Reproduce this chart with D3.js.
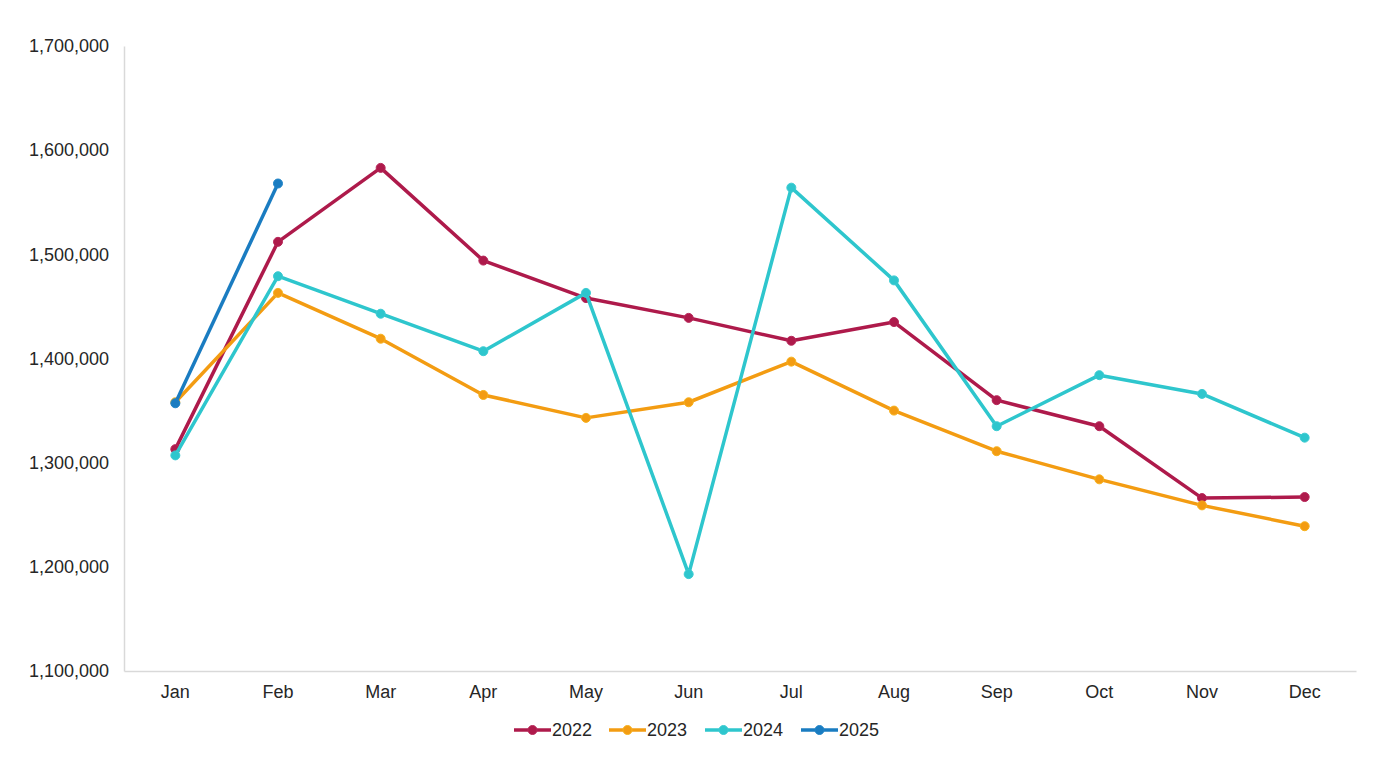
<!DOCTYPE html>
<html>
<head>
<meta charset="utf-8">
<script src="https://cdn.jsdelivr.net/npm/d3@7"></script>
<style>
  body { margin: 0; background: #fff; }
  svg { font-family: "Liberation Sans", Arial, sans-serif; }
</style>
</head>
<body>
<svg id="chart"></svg>
<script>
var width = 1400;
var height = 763;

var months = ['Jan', 'Feb', 'Mar', 'Apr', 'May', 'Jun', 'Jul', 'Aug', 'Sep', 'Oct', 'Nov', 'Dec'];
var years = ['2022', '2023', '2024', '2025'];

var values2022 = [1313000, 1512000, 1583000, 1494000, 1458000, 1439000, 1417000, 1435000, 1360000, 1335000, 1266000, 1267000];
var values2023 = [1358000, 1463000, 1419000, 1365000, 1343000, 1358000, 1397000, 1350000, 1311000, 1284000, 1259000, 1239000];
var values2024 = [1307000, 1479000, 1443000, 1407000, 1463000, 1193000, 1564000, 1475000, 1335000, 1384000, 1366000, 1324000];
var values2025 = [1357000, 1568000];

var yTicks = [1100000, 1200000, 1300000, 1400000, 1500000, 1600000, 1700000];

var lineColors = ['#AE1A4B', '#F39C12', '#2EC6CD', '#1A7CC1'];
var markerStroke = ['#B8275A', '#F7B21E', '#3CCCD3', '#2084C8'];

var series = [values2022, values2023, values2024, values2025].map((vals, i) => ({
  year: years[i],
  color: lineColors[i],
  stroke: markerStroke[i],
  points: vals.map((v, j) => ({ month: months[j], value: v }))
}));

var margin = { top: 46, right: 44, bottom: 92, left: 124 };

var svg = d3.select('#chart')
    .attr('width', width)
    .attr('height', height);

var xScale = d3.scaleBand()
    .domain(months)
    .range([margin.left, width - margin.right]);

var yScale = d3.scaleLinear()
    .domain([1100000, 1700000])
    .range([height - margin.bottom, margin.top]);

var fmt = d3.format(',');

// y axis
var yAxis = svg.append('g')
    .attr('transform', 'translate(' + margin.left + ',0)')
    .call(d3.axisLeft(yScale).tickValues(yTicks).tickFormat(fmt).tickSize(0).tickPadding(15));
yAxis.select('.domain').attr('stroke', '#d9d9d9').attr('stroke-width', 1.5);
yAxis.selectAll('text').attr('font-size', 18).attr('fill', '#262626');

// x axis
var xAxis = svg.append('g')
    .attr('transform', 'translate(0,' + (height - margin.bottom) + ')')
    .call(d3.axisBottom(xScale).tickSize(0).tickPadding(14));
xAxis.select('.domain').attr('stroke', '#d9d9d9').attr('stroke-width', 1.5);
xAxis.selectAll('text').attr('font-size', 18).attr('fill', '#262626');

var line = d3.line()
    .x(d => xScale(d.month) + xScale.bandwidth() / 2)
    .y(d => yScale(d.value));

var groups = svg.selectAll('.series')
    .data(series)
    .enter()
    .append('g')
      .classed('series', true);

groups.append('path')
    .attr('d', d => line(d.points))
    .attr('fill', 'none')
    .attr('stroke', d => d.color)
    .attr('stroke-width', 3.5)
    .attr('stroke-linejoin', 'round');

groups.selectAll('circle')
    .data(d => d.points.map(p => ({ p: p, s: d })))
    .enter()
    .append('circle')
      .attr('cx', d => xScale(d.p.month) + xScale.bandwidth() / 2)
      .attr('cy', d => yScale(d.p.value))
      .attr('r', 4.5)
      .attr('fill', d => d.s.color)
      .attr('stroke', d => d.s.stroke)
      .attr('stroke-width', 1);

// legend
var legendX = [514, 609, 705, 801];
var legend = svg.append('g')
    .attr('transform', 'translate(0,730)');

var items = legend.selectAll('.item')
    .data(series)
    .enter()
    .append('g')
      .classed('item', true)
      .attr('transform', (d, i) => 'translate(' + legendX[i] + ',0)');

items.append('line')
    .attr('x1', 0).attr('x2', 37)
    .attr('stroke', d => d.color)
    .attr('stroke-width', 3.5);

items.append('circle')
    .attr('cx', 18.5)
    .attr('r', 4.5)
    .attr('fill', d => d.color)
    .attr('stroke', d => d.stroke);

items.append('text')
    .attr('x', 38)
    .attr('dy', '0.35em')
    .attr('font-size', 18)
    .attr('fill', '#262626')
    .text(d => d.year);
</script>
</body>
</html>
